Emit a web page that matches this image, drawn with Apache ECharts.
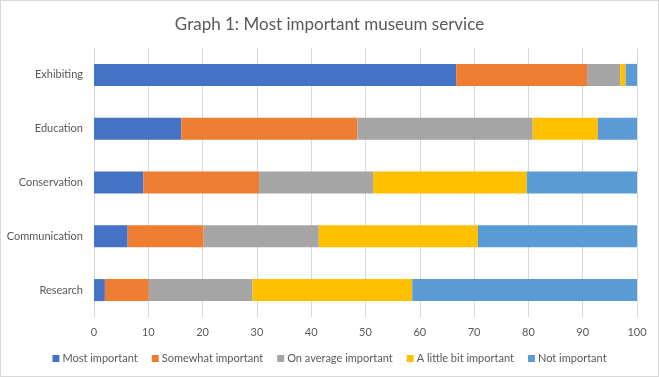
<!DOCTYPE html>
<html>
<head>
<meta charset="utf-8">
<script src="https://cdn.jsdelivr.net/npm/echarts@6/dist/echarts.min.js"></script>
<style>
  html, body { margin: 0; padding: 0; background: #fff; }
  #chart { width: 659px; height: 377px; box-sizing: border-box; border: 1px solid #d9d9d9; }
</style>
</head>
<body>
<div id="chart"></div>
<script>
// categories bottom to top, as echarts draws a category y axis
var services = ['Research', 'Communication', 'Conservation', 'Education', 'Exhibiting']
var mostImportant = [2.0, 6.2, 9.1, 16.1, 66.7]
var somewhatImportant = [8.1, 14.0, 21.3, 32.4, 24.1]
var averageImportant = [19.1, 21.2, 21.0, 32.3, 6.1]
var littleImportant = [29.4, 29.3, 28.3, 12.0, 1.0]
var notImportant = [41.4, 29.3, 20.3, 7.2, 2.1]

var fontFamily = 'Lato, "Open Sans", sans-serif'
var textColor = '#595959'
var gridColor = '#d9d9d9'

var myChart = echarts.init(document.getElementById('chart'))

function makeSeries(name, data, color) {
  return {
    name: name,
    type: 'bar',
    stack: 'total',
    barWidth: 22,
    itemStyle: { color: color },
    data: data
  }
}

var option = {
  animation: false,
  title: {
    text: 'Graph 1: Most important museum service',
    left: 'center',
    top: 10,
    textStyle: {
      fontFamily: fontFamily,
      fontSize: 17,
      fontWeight: 'normal',
      color: textColor
    }
  },
  grid: {
    left: 93,
    right: 21,
    top: 47,
    bottom: 59
  },
  legend: {
    bottom: 7,
    left: 'center',
    itemWidth: 7,
    itemHeight: 7,
    itemGap: 14,
    icon: 'rect',
    textStyle: {
      fontFamily: fontFamily,
      fontSize: 11,
      color: textColor,
      padding: [0, 0, 0, -2]
    }
  },
  xAxis: {
    type: 'value',
    min: 0,
    max: 100,
    interval: 10,
    axisLine: { show: false },
    axisTick: { show: false },
    axisLabel: {
      margin: 10,
      fontFamily: fontFamily,
      fontSize: 11,
      color: textColor
    },
    splitLine: {
      show: true,
      lineStyle: { color: gridColor, width: 1 }
    }
  },
  yAxis: {
    type: 'category',
    data: services,
    axisLine: { show: false },
    axisTick: { show: false },
    axisLabel: {
      margin: 11,
      fontFamily: fontFamily,
      fontSize: 11,
      color: textColor
    }
  },
  series: [
    makeSeries('Most important', mostImportant, '#4472c4'),
    makeSeries('Somewhat important', somewhatImportant, '#ed7d31'),
    makeSeries('On average important', averageImportant, '#a5a5a5'),
    makeSeries('A little bit important', littleImportant, '#ffc000'),
    makeSeries('Not important', notImportant, '#5b9bd5')
  ]
}

myChart.setOption(option)
</script>
</body>
</html>
